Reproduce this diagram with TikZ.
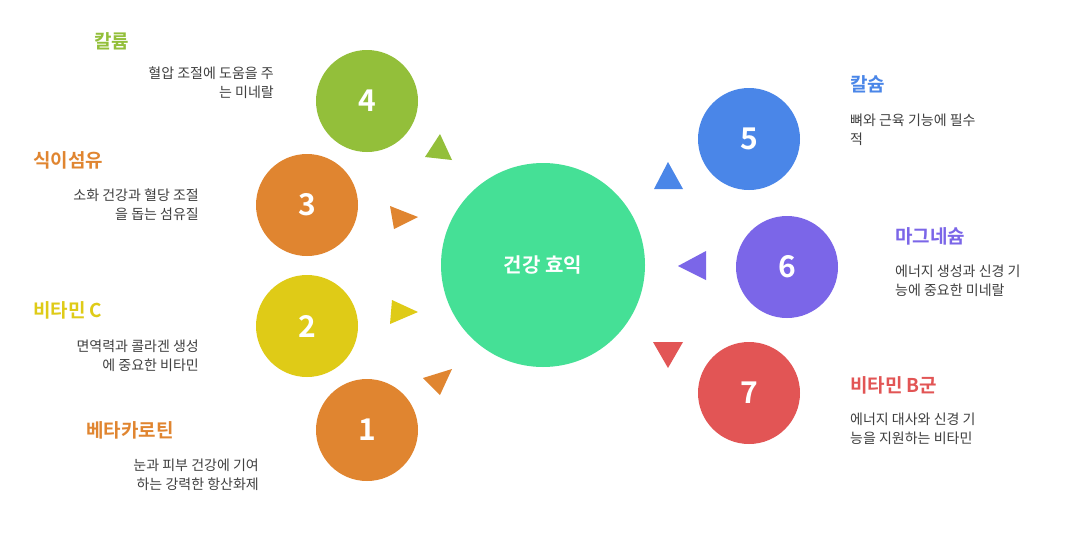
\documentclass[tikz,border=0pt]{standalone}
\usepackage{fontspec}
\setmainfont{Noto Sans CJK KR}
\newfontfamily\kb[FakeBold=0]{Noto Sans CJK KR Bold}
\begin{document}
\begin{tikzpicture}[x=1pt,y=-1pt,
  small/.style={circle,minimum size=102pt,inner sep=0pt,text=white,font=\kb\fontsize{30}{32}\selectfont},
  ttl/.style={font=\kb\fontsize{19}{22}\selectfont,inner sep=0pt},
  descl/.style={font=\fontsize{14}{19}\selectfont,align=right,inner sep=0pt,text=black!75},
  descr/.style={font=\fontsize{14}{19}\selectfont,align=left,inner sep=0pt,text=black!75}]
\definecolor{cg}{HTML}{45E096}\definecolor{c4}{HTML}{93BF3A}\definecolor{c3}{HTML}{E08530}
\definecolor{c2}{HTML}{DFCB17}\definecolor{c5}{HTML}{4A86E8}\definecolor{c6}{HTML}{7B66E8}
\definecolor{c7}{HTML}{E25555}
\fill[white] (0,0) rectangle (1082,533);
\useasboundingbox (0,0) rectangle (1082,533);
\node[circle,fill=cg,minimum size=204pt,text=white,font=\kb\fontsize{20}{24}\selectfont] (c) at (543,265) {건강 효익};
\node[small,fill=c4] (n4) at (367,101) {4};
\node[small,fill=c3] (n3) at (307,205) {3};
\node[small,fill=c2] (n2) at (307,326) {2};
\node[small,fill=c3] (n1) at (367,430) {1};
\node[small,fill=c5] (n5) at (749,139) {5};
\node[small,fill=c6] (n6) at (787,267) {6};
\node[small,fill=c7] (n7) at (749,393) {7};
% triangles
\fill[c4] (425,157)--(452,160)--(440,134)--cycle;
\fill[c3] (390,206)--(418,217)--(394,229)--cycle;
\fill[c2] (392,300)--(418,312)--(390,324)--cycle;
\fill[c3] (423,378)--(452,369)--(440,395)--cycle;
\fill[c5] (654,189)--(683,189)--(668,162)--cycle;
\fill[c6] (706,251)--(678,266)--(706,280)--cycle;
\fill[c7] (653,342)--(683,342)--(668,368)--cycle;
% left labels
\node[ttl,text=c4,anchor=west] (t4) at (94,41) {칼륨};
\node[descl,anchor=north east] (d4) at (274,67) {혈압 조절에 도움을 주\\는 미네랄};
\node[ttl,text=c3,anchor=west] (t3) at (33,160) {식이섬유};
\node[descl,anchor=north east] (d3) at (199,189) {소화 건강과 혈당 조절\\을 돕는 섬유질};
\node[ttl,text=c2,anchor=west] (t2) at (33,310) {비타민 C};
\node[descl,anchor=north east] (d2) at (199,340) {면역력과 콜라겐 생성\\에 중요한 비타민};
\node[ttl,text=c3,anchor=west] (t1) at (86,430) {베타카로틴};
\node[descl,anchor=north east] (d1) at (259,459) {눈과 피부 건강에 기여\\하는 강력한 항산화제};
% right labels
\node[ttl,text=c5,anchor=west] (t5) at (850,84) {칼슘};
\node[descr,anchor=north west] (d5) at (850,114) {뼈와 근육 기능에 필수\\적};
\node[ttl,text=c6,anchor=west] (t6) at (895,236) {마그네슘};
\node[descr,anchor=north west] (d6) at (895,265) {에너지 생성과 신경 기\\능에 중요한 미네랄};
\node[ttl,text=c7,anchor=west] (t7) at (850,385) {비타민 B군};
\node[descr,anchor=north west] (d7) at (850,413) {에너지 대사와 신경 기\\능을 지원하는 비타민};
\end{tikzpicture}
\end{document}
